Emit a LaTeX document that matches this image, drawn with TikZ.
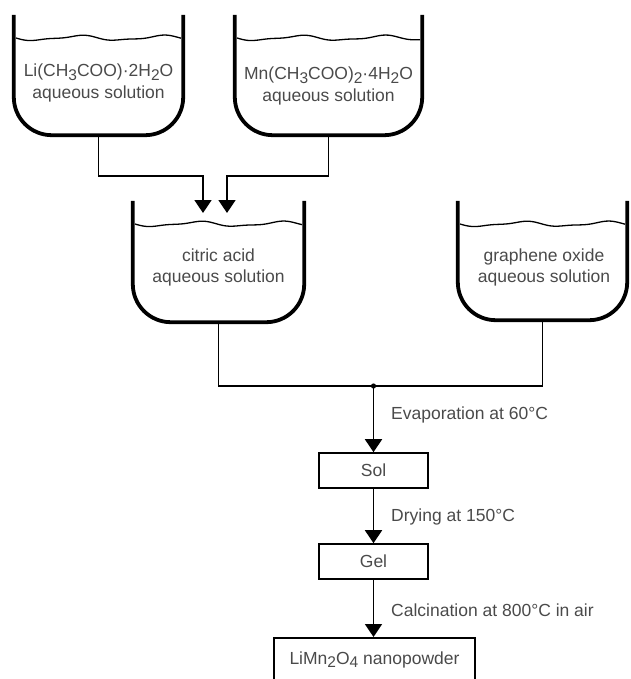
\documentclass[tikz,border=0pt]{standalone}
\usepackage{fontspec}
\setmainfont{Liberation Sans}
\usetikzlibrary{arrows.meta,calc}
\newcommand\chemsub[1]{\raisebox{-0.35ex}{\fontsize{15.5}{15.5}\selectfont #1}}
\definecolor{txtgray}{HTML}{4A4A4A}
\tikzset{
  vessel/.style={rectangle, draw=none, inner sep=0pt},
  wall/.style={line width=3.8pt, rounded corners=38pt},
  water/.style={line width=1.3pt},
  txt/.style={text=txtgray, font=\fontsize{17.5}{21.5}\selectfont, align=center, inner sep=0pt},
  conn/.style={line width=1.8pt},
  arr/.style={line width=1.8pt, -{Triangle[width=17pt,length=13pt]}},
  stepbox/.style={draw, line width=1.6pt, rectangle, text=txtgray, font=\fontsize{17.5}{21.5}\selectfont, inner sep=0pt}
}
\begin{document}
\begin{tikzpicture}[x=1pt,y=-1pt]
\useasboundingbox (0,0) rectangle (630,679);
\clip (0,0) rectangle (630,679);

% vessels (frames)
\node[vessel, minimum width=169pt, minimum height=120pt] (li) at (98.5,75) {};
\node[vessel, minimum width=187pt, minimum height=120pt] (mn) at (328.5,75) {};
\node[vessel, minimum width=171pt, minimum height=121pt] (ca) at (218.5,261.5) {};
\node[vessel, minimum width=169pt, minimum height=119pt] (go) at (542.5,260.5) {};

\foreach \v in {li,mn,ca,go}{
  \draw[wall] (\v.north west) -- (\v.south west) -- (\v.south east) -- (\v.north east);
}

% water surfaces
\draw[water] plot[domain=16:181, samples=70] (\x,{38+2.2*sin((\x-16)*4.3)+0.8*sin((\x-16)*9)});
\draw[water] plot[domain=237:420, samples=70] (\x,{38+2.2*sin((\x-237)*4.3)+0.8*sin((\x-237)*9)});
\draw[water] plot[domain=135:302, samples=70] (\x,{224+2.2*sin((\x-135)*4.3)+0.8*sin((\x-135)*9)});
\draw[water] plot[domain=460:625, samples=70] (\x,{224+2.2*sin((\x-460)*4.3)+0.8*sin((\x-460)*9)});

% labels in vessels
\node[txt] (lit) at (98.5,83) {Li(CH\chemsub{3}COO)·2H\chemsub{2}O\\aqueous solution};
\node[txt] (mnt) at (328.5,86) {Mn(CH\chemsub{3}COO)\chemsub{2}·4H\chemsub{2}O\\aqueous solution};
\node[txt] (cat) at (218.5,267.5) {citric acid\\aqueous solution};
\node[txt] (got) at (544,267.5) {graphene oxide\\aqueous solution};

% inflows to citric acid vessel
\coordinate (j1) at (0,176);
\coordinate (in1) at (203,213);
\coordinate (in2) at (227,213);
\draw[arr] (li.south) -- (li.south |- j1) -| (in1);
\draw[arr] (mn.south) -- (mn.south |- j1) -| (in2);

% merge line
\coordinate (j2) at (373.5,386);
\draw[conn] (ca.south) |- (j2);
\draw[conn] (go.south) |- (j2);
\fill (j2) circle (2.6pt);

% process boxes
\node[stepbox, minimum width=109pt, minimum height=35pt] (sol) at (373.5,470.5) {Sol};
\node[stepbox, minimum width=109pt, minimum height=35pt] (gel) at (373.5,561.5) {Gel};
\node[stepbox, minimum width=201pt, minimum height=90pt, anchor=north] (lmo) at (374.5,637) {};
\node[txt] (lmot) at (374.5,660) {LiMn\chemsub{2}O\chemsub{4} nanopowder};

\draw[arr] (j2) -- (sol.north);
\draw[arr] (sol.south) -- (gel.north);
\draw[arr] (gel.south) -- (gel.south |- lmo.north);

\node[txt, anchor=west] (ev) at (391,415) {Evaporation at 60°C};
\node[txt, anchor=west] (dr) at (391,517) {Drying at 150°C};
\node[txt, anchor=west] (cl) at (391,610) {Calcination at 800°C in air};
\end{tikzpicture}
\end{document}
